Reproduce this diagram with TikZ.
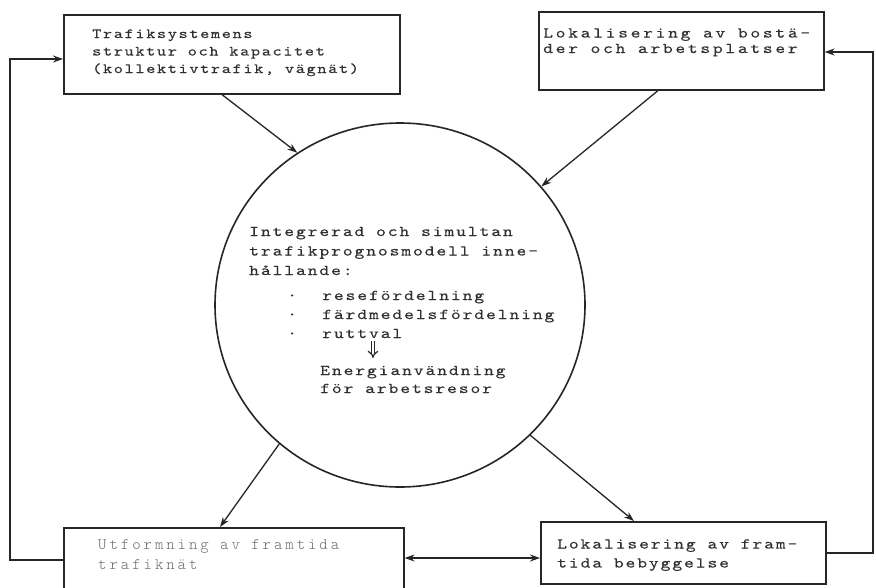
\documentclass[tikz,border=0pt]{standalone}
\usepackage{fontspec}
\usetikzlibrary{shapes.geometric,arrows.meta,calc}
% serif typewriter faces with the wide pitch of the typescript
\newfontfamily\twA[LetterSpace=11.5,FakeStretch=1.25,FakeBold=0.2]{lmmono10-regular.otf}
\newfontfamily\twB[LetterSpace=17.7,FakeStretch=1.25,FakeBold=0.2]{lmmono10-regular.otf}
\newfontfamily\twC[LetterSpace=12.4,FakeStretch=1.25,FakeBold=0.2]{lmmono10-regular.otf}
\newfontfamily\twD[LetterSpace=18.5]{lmmonolt10-regular.otf}
\definecolor{ink}{HTML}{262626}
\definecolor{typed}{HTML}{303030}
\definecolor{faint}{HTML}{6A6A6A}
\begin{document}
\begin{tikzpicture}[x=1pt,y=-1pt,
  box/.style={draw=ink, line width=1.6pt, inner sep=0pt, anchor=north west},
  % multi-line texts are placed by the baseline of their last line
  txt/.style={inner sep=0pt, anchor=base west, align=left, text=typed},
  arr/.style={draw=ink, line width=1.3pt, -{Stealth[length=10pt,width=7pt]}},
  loop/.style={draw=ink, line width=1.5pt, -{Stealth[length=10pt,width=7pt]}}]
\fill[white] (0,0) rectangle (876,587);
\useasboundingbox (0,0) rectangle (876,587);

% boxes
\node[box, minimum width=336pt, minimum height=79pt] (b1) at (63,14) {};
\node[box, minimum width=285pt, minimum height=78pt] (b2) at (538,11) {};
\node[box, minimum width=340pt, minimum height=70pt] (b3) at (63,527) {};
\node[box, minimum width=285pt, minimum height=62pt] (b4) at (540,521) {};

% central model
\node[draw=ink, line width=1.6pt, ellipse, minimum width=370pt,
      minimum height=364pt, inner sep=0pt] (c) at (400,305) {};

% texts
\node[txt, font={\fontsize{14pt}{17.5pt}\twA}] (t1) at (92,73)
  {Trafiksystemens\\struktur och kapacitet\\(kollektivtrafik, vägnät)};
\node[txt, font={\fontsize{15pt}{15.5pt}\twB}] (t2) at (543,53)
  {Lokalisering av bostä-\\der och arbetsplatser};
\node[txt, font={\fontsize{15pt}{19.5pt}\twC}] (t5) at (249,275)
  {Integrerad och simultan\\trafikprognosmodell inne-\\hållande:};
\node[txt, font={\fontsize{15pt}{19pt}\twC}] (t6) at (287,338)
  {·\\·\\·};
\node[txt, font={\fontsize{15pt}{19pt}\twC}] (t7) at (322,338)
  {resefördelning\\färdmedelsfördelning\\ruttval};
\node[txt, font={\fontsize{15pt}{18pt}\twC}] (t8) at (320,393)
  {Energianvändning\\för arbetsresor};
\node[txt, text=faint, font={\fontsize{16pt}{20pt}\twD}] (t3) at (98,569.5)
  {Utformning av framtida\\trafiknät};
\node[txt, font={\fontsize{15pt}{19pt}\twC}] (t4) at (557,567.5)
  {Lokalisering av fram-\\tida bebyggelse};

% result arrow inside the model
\coordinate (e1) at (373,341);
\coordinate (e2) at (373,358);
\draw[draw=ink, line width=1.2pt, double distance=2.4pt,
      -{Implies[length=5pt]}] (e1) -- (e2);

% inputs to the model
\draw[arr] ($(b1.south west)+(159,0)$) -- (c.124);
\draw[arr] ($(b2.south west)+(120,0)$) -- (c.40);
% outputs of the model
\draw[arr] (c.229) -- ($(b3.north west)+(157,0)$);
\draw[arr] (c.315) -- ($(b4.north west)+(94,0)$);
% interaction between the two plans
\draw[draw=ink, line width=1.3pt, {Stealth[length=10pt,width=7pt]}-{Stealth[length=10pt,width=7pt]}]
  ($(b3.north east)+(0,31)$) -- ($(b4.north west)+(0,37)$);
% feedback loops
\draw[loop] ($(b3.north west)+(0,33)$) -- (10,560) |- ($(b1.north west)+(0,45)$);
\draw[loop] ($(b4.north east)+(0,32)$) -- (873,553) |- ($(b2.north east)+(0,41)$);
\end{tikzpicture}
\end{document}
